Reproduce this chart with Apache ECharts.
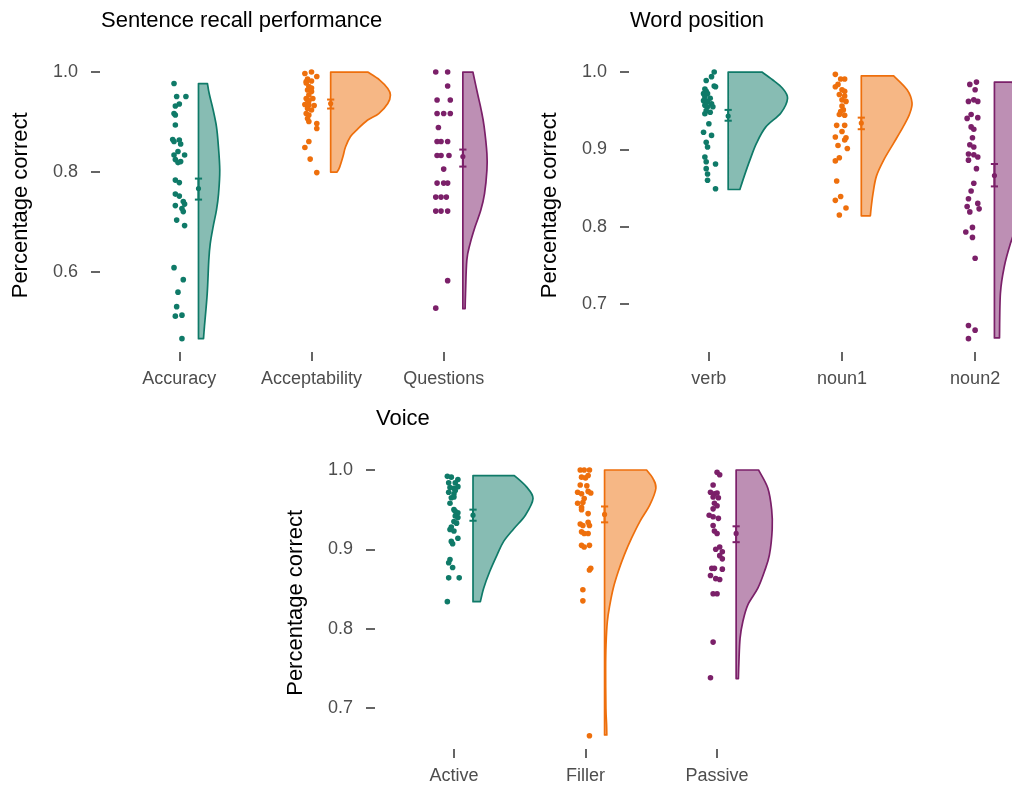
<!DOCTYPE html>
<html><head><meta charset="utf-8">
<script src="https://cdn.jsdelivr.net/npm/echarts@6/dist/echarts.min.js"></script>
<style>html,body{margin:0;padding:0;background:#fff}#c{width:1012px;height:789px}</style>
</head><body><div id="c"></div>
<script>
// ---------- categories & ticks ----------
const recallCats = ['Accuracy', 'Acceptability', 'Questions'];
const positionCats = ['verb', 'noun1', 'noun2'];
const voiceCats = ['Active', 'Filler', 'Passive'];
const recallTicks = [0.6, 0.8, 1.0];
const positionTicks = [0.7, 0.8, 0.9, 1.0];
const voiceTicks = [0.7, 0.8, 0.9, 1.0];

// ---------- raw points: [jitter (category units), proportion correct] ----------
const accuracyPts = [[-0.04,0.977],[-0.02,0.951],[0.05,0.951],[0,0.936],[-0.03,0.932],[-0.04,0.917],[-0.03,0.914],[-0.03,0.894],[-0.05,0.865],[-0.04,0.861],[0,0.864],[0.01,0.856],[-0.01,0.841],[-0.04,0.834],[0.04,0.834],[-0.03,0.825],[0.01,0.821],[-0.01,0.819],[-0.03,0.784],[0,0.779],[-0.03,0.756],[0,0.752],[0.03,0.741],[-0.03,0.733],[0.04,0.736],[0.02,0.727],[0.03,0.721],[-0.02,0.704],[0.04,0.693],[-0.04,0.609],[0.03,0.585],[-0.01,0.560],[-0.02,0.531],[0.02,0.514],[-0.03,0.512],[0.02,0.467]];
const acceptabilityPts = [[-0.05,0.997],[0,1.0],[0.04,0.991],[-0.03,0.986],[-0.04,0.981],[0,0.982],[-0.04,0.978],[-0.02,0.971],[0,0.968],[-0.03,0.964],[0,0.961],[-0.02,0.954],[-0.04,0.947],[-0.03,0.944],[0.01,0.947],[-0.02,0.942],[-0.05,0.935],[-0.02,0.934],[0.02,0.933],[-0.03,0.927],[0,0.924],[-0.04,0.917],[-0.02,0.914],[-0.03,0.907],[-0.02,0.901],[0.04,0.897],[0.04,0.887],[-0.02,0.861],[-0.05,0.849],[-0.01,0.826],[0.04,0.799]];
const questionsPts = [[-0.06,1.0],[0.03,1.0],[0.03,0.972],[-0.05,0.944],[0.05,0.944],[-0.05,0.917],[0,0.917],[0.05,0.917],[-0.04,0.889],[-0.05,0.861],[-0.02,0.861],[0.03,0.861],[-0.05,0.833],[-0.02,0.833],[0.04,0.833],[0,0.806],[-0.05,0.778],[0,0.778],[0.03,0.778],[-0.06,0.750],[-0.02,0.750],[0.02,0.750],[-0.06,0.722],[-0.02,0.722],[0.03,0.722],[0.03,0.583],[-0.06,0.528]];
const verbPts = [[0.04,1.0],[0.02,0.994],[-0.02,0.989],[0.04,0.982],[0.05,0.981],[-0.03,0.978],[-0.02,0.975],[-0.04,0.972],[-0.01,0.972],[-0.03,0.968],[0.01,0.966],[-0.04,0.963],[-0.01,0.962],[0.02,0.959],[-0.03,0.957],[-0.01,0.955],[0.03,0.955],[-0.02,0.950],[-0.03,0.946],[0.01,0.948],[0,0.933],[-0.04,0.922],[0.02,0.918],[-0.02,0.909],[-0.01,0.903],[-0.03,0.890],[0.05,0.881],[-0.02,0.884],[-0.02,0.875],[-0.01,0.868],[-0.01,0.860],[0.05,0.849]];
const noun1Pts = [[-0.05,0.997],[-0.01,0.991],[0.02,0.991],[-0.03,0.984],[-0.05,0.981],[0,0.977],[0.02,0.975],[-0.02,0.971],[0.02,0.969],[0,0.964],[0.03,0.962],[0,0.956],[0.01,0.951],[-0.01,0.949],[-0.02,0.945],[0.02,0.944],[-0.04,0.931],[0.02,0.931],[0,0.923],[-0.05,0.916],[0.03,0.915],[0.02,0.912],[-0.03,0.905],[0.04,0.901],[-0.02,0.889],[-0.05,0.885],[-0.04,0.859],[-0.01,0.839],[-0.05,0.834],[0.03,0.824],[-0.02,0.815]];
const noun2Pts = [[-0.04,0.984],[0.01,0.987],[0,0.977],[-0.05,0.962],[-0.01,0.964],[0.02,0.962],[-0.03,0.945],[-0.06,0.940],[0.02,0.941],[-0.03,0.929],[-0.01,0.926],[-0.02,0.915],[-0.04,0.906],[-0.01,0.903],[-0.05,0.894],[-0.01,0.893],[0.02,0.890],[-0.05,0.886],[0.01,0.875],[-0.01,0.856],[-0.03,0.846],[-0.05,0.836],[-0.06,0.826],[-0.04,0.819],[0.02,0.830],[0.03,0.823],[-0.02,0.799],[-0.07,0.793],[-0.02,0.786],[0,0.759],[-0.05,0.672],[0,0.666],[-0.05,0.655]];
const activePts = [[-0.05,0.992],[-0.02,0.991],[0.03,0.988],[-0.04,0.984],[0.01,0.984],[-0.03,0.978],[0,0.977],[0.03,0.979],[-0.04,0.972],[0,0.970],[0.01,0.974],[-0.02,0.965],[0,0.966],[-0.03,0.958],[0,0.950],[0.01,0.948],[0.03,0.946],[0.01,0.942],[0.03,0.940],[0,0.935],[0.02,0.933],[-0.02,0.928],[-0.03,0.925],[0,0.923],[0.03,0.914],[-0.02,0.910],[-0.01,0.907],[-0.03,0.887],[-0.04,0.883],[-0.01,0.877],[-0.04,0.864],[0.04,0.864],[-0.05,0.834]];
const fillerPts = [[-0.04,1.0],[-0.01,1.0],[0.03,1.0],[-0.03,0.991],[0,0.990],[0.02,0.993],[-0.04,0.981],[0.01,0.980],[-0.06,0.972],[-0.03,0.970],[0.02,0.973],[0.04,0.971],[-0.01,0.964],[-0.06,0.958],[-0.02,0.959],[-0.03,0.953],[-0.03,0.950],[0.02,0.945],[-0.04,0.932],[-0.02,0.930],[0.02,0.934],[0.03,0.930],[-0.03,0.922],[-0.01,0.920],[0.02,0.920],[-0.03,0.905],[-0.01,0.903],[0.03,0.905],[0.04,0.876],[0.03,0.874],[-0.02,0.849],[-0.02,0.835],[0.03,0.665]];
const passivePts = [[0,0.997],[0.02,0.994],[-0.03,0.981],[-0.05,0.972],[-0.02,0.970],[0,0.971],[-0.03,0.966],[0.01,0.965],[-0.02,0.958],[0,0.955],[-0.03,0.951],[-0.06,0.943],[-0.03,0.941],[0.01,0.939],[-0.03,0.930],[-0.02,0.923],[0,0.920],[0.02,0.903],[-0.01,0.900],[0.04,0.897],[0.02,0.892],[0.04,0.888],[-0.04,0.876],[-0.02,0.876],[0.04,0.875],[-0.05,0.867],[-0.01,0.863],[0.02,0.862],[-0.03,0.844],[0,0.844],[-0.03,0.783],[-0.05,0.738]];

// ---------- half-violin outlines: [proportion correct, density half-width (category units)] ----------
const accuracyViolin = [[0.977,0.068],[0.957,0.081],[0.924,0.111],[0.891,0.136],[0.857,0.149],[0.804,0.161],[0.757,0.152],[0.724,0.136],[0.691,0.111],[0.657,0.089],[0.624,0.078],[0.557,0.066],[0.491,0.045],[0.467,0.038]];
const acceptabilityViolin = [[1.0,0.280],[0.984,0.371],[0.967,0.432],[0.954,0.452],[0.937,0.432],[0.917,0.364],[0.904,0.280],[0.885,0.200],[0.871,0.150],[0.850,0.112],[0.831,0.093],[0.810,0.068],[0.800,0.048]];
const questionsViolin = [[1.0,0.076],[0.957,0.111],[0.924,0.139],[0.891,0.161],[0.837,0.182],[0.804,0.182],[0.757,0.164],[0.724,0.136],[0.691,0.093],[0.657,0.055],[0.624,0.030],[0.557,0.020],[0.527,0.017]];
const verbViolin = [[1.0,0.253],[0.990,0.333],[0.979,0.408],[0.966,0.446],[0.947,0.396],[0.929,0.283],[0.908,0.213],[0.886,0.163],[0.865,0.120],[0.848,0.088]];
const noun1Violin = [[0.995,0.243],[0.977,0.344],[0.960,0.381],[0.945,0.361],[0.929,0.314],[0.908,0.243],[0.886,0.168],[0.865,0.113],[0.843,0.088],[0.826,0.075],[0.814,0.068]];
const noun2Violin = [[0.987,0.135],[0.972,0.158],[0.950,0.226],[0.920,0.301],[0.890,0.316],[0.860,0.286],[0.830,0.226],[0.800,0.165],[0.778,0.120],[0.749,0.075],[0.714,0.045],[0.656,0.038]];
const activeViolin = [[0.993,0.314],[0.979,0.405],[0.964,0.456],[0.943,0.398],[0.926,0.310],[0.910,0.233],[0.893,0.183],[0.872,0.127],[0.851,0.081],[0.834,0.056]];
const fillerViolin = [[1.0,0.319],[0.990,0.365],[0.977,0.390],[0.956,0.344],[0.935,0.268],[0.914,0.205],[0.893,0.150],[0.872,0.104],[0.851,0.066],[0.830,0.040],[0.809,0.021],[0.780,0.011],[0.750,0.008],[0.700,0.010],[0.680,0.015],[0.666,0.017]];
const passiveViolin = [[1.0,0.170],[0.977,0.241],[0.950,0.270],[0.925,0.274],[0.893,0.253],[0.872,0.215],[0.851,0.165],[0.830,0.089],[0.809,0.051],[0.788,0.030],[0.758,0.021],[0.737,0.017]];

// ---------- mean ± SE ----------
const recallMean = [0.767, 0.937, 0.831];
const recallLow  = [0.745, 0.927, 0.811];
const recallHigh = [0.787, 0.945, 0.845];
const positionMean = [0.943, 0.934, 0.866];
const positionLow  = [0.937, 0.926, 0.852];
const positionHigh = [0.951, 0.941, 0.881];
const voiceMean = [0.943, 0.944, 0.920];
const voiceLow  = [0.936, 0.934, 0.909];
const voiceHigh = [0.950, 0.954, 0.929];

// ---------- styling ----------
const COLORS = ['#0F7A68', '#EE6F0C', '#7B2069'];
const FILLS = ['rgba(15,122,104,0.5)', 'rgba(238,111,12,0.5)', 'rgba(123,32,105,0.5)'];
const NUDGE = 0.145;
const FONT = '"Liberation Sans", Arial, sans-serif';

const panels = [
  { title: 'Sentence recall performance', cats: recallCats, ticks: recallTicks,
    pts: [accuracyPts, acceptabilityPts, questionsPts],
    violins: [accuracyViolin, acceptabilityViolin, questionsViolin],
    mean: recallMean, low: recallLow, high: recallHigh,
    grid: { left: 100, top: 58.7, width: 423, height: 293.3 } },
  { title: 'Word position', cats: positionCats, ticks: positionTicks,
    pts: [verbPts, noun1Pts, noun2Pts],
    violins: [verbViolin, noun1Violin, noun2Violin],
    mean: positionMean, low: positionLow, high: positionHigh,
    grid: { left: 629, top: 58.7, width: 426, height: 293.3 } },
  { title: 'Voice', cats: voiceCats, ticks: voiceTicks,
    pts: [activePts, fillerPts, passivePts],
    violins: [activeViolin, fillerViolin, passiveViolin],
    mean: voiceMean, low: voiceLow, high: voiceHigh,
    grid: { left: 375, top: 456.7, width: 421, height: 292.3 } }
];

function yRange(p) {
  let lo = Infinity, hi = -Infinity;
  p.pts.forEach(g => g.forEach(d => { lo = Math.min(lo, d[1]); hi = Math.max(hi, d[1]); }));
  p.violins.forEach(g => g.forEach(d => { lo = Math.min(lo, d[0]); hi = Math.max(hi, d[0]); }));
  const pad = (hi - lo) * 0.05;
  return [lo - pad, hi + pad];
}

function violinRenderer(profiles) {
  return function (params, api) {
    const idx = Math.round(api.value(0)) - 1;
    const prof = profiles[idx];
    const cx = idx + 1 + NUDGE;
    const vTop = prof[0][0], vBot = prof[prof.length - 1][0];
    const pts = prof.map(d => api.coord([cx + d[1], d[0]]));
    const lt = api.coord([cx, vTop]), lb = api.coord([cx, vBot]);
    let d = 'M' + lt[0] + ',' + lt[1] + ' L' + pts[0][0] + ',' + pts[0][1];
    for (let k = 0; k < pts.length - 1; k++) {
      const p0 = pts[k - 1] || pts[k], p1 = pts[k], p2 = pts[k + 1], p3 = pts[k + 2] || pts[k + 1];
      const c1 = [p1[0] + (p2[0] - p0[0]) / 6, p1[1] + (p2[1] - p0[1]) / 6];
      const c2 = [p2[0] - (p3[0] - p1[0]) / 6, p2[1] - (p3[1] - p1[1]) / 6];
      d += ' C' + c1[0] + ',' + c1[1] + ' ' + c2[0] + ',' + c2[1] + ' ' + p2[0] + ',' + p2[1];
    }
    d += ' L' + lb[0] + ',' + lb[1] + ' Z';
    return { type: 'path', shape: { pathData: d },
      style: { fill: FILLS[idx], stroke: COLORS[idx], lineWidth: 1.7, lineJoin: 'round' } };
  };
}

function errRenderer(params, api) {
  const idx = params.dataIndex;
  const x = api.value(0);
  const m = api.coord([x, api.value(1)]);
  const l = api.coord([x, api.value(2)]);
  const h = api.coord([x, api.value(3)]);
  const c = COLORS[idx], w = 3.6;
  const st = { stroke: c, lineWidth: 2 };
  return { type: 'group', children: [
    { type: 'line', shape: { x1: m[0], y1: l[1], x2: m[0], y2: h[1] }, style: st },
    { type: 'line', shape: { x1: m[0] - w, y1: l[1], x2: m[0] + w, y2: l[1] }, style: st },
    { type: 'line', shape: { x1: m[0] - w, y1: h[1], x2: m[0] + w, y2: h[1] }, style: st },
    { type: 'circle', shape: { cx: m[0], cy: m[1], r: 2.6 }, style: { fill: c } }
  ] };
}

const option = {
  backgroundColor: '#ffffff',
  animation: false,
  title: [], grid: [], xAxis: [], yAxis: [], series: []
};

panels.forEach((p, pi) => {
  const yr = yRange(p);
  option.title.push({ text: p.title, left: p.grid.left + 1, top: pi === 2 ? 408 : 10, padding: 0,
    textStyle: { fontFamily: FONT, fontSize: 22, fontWeight: 'normal', color: '#000' } });
  option.grid.push(Object.assign({ containLabel: false, outerBoundsMode: 'none' }, p.grid));
  option.xAxis.push({ type: 'value', gridIndex: pi, min: 0.4, max: 3.6,
    splitLine: { show: false }, axisLine: { show: false },
    axisTick: { show: true, length: 9, customValues: [1, 2, 3], lineStyle: { color: '#333', width: 1.5 } },
    axisLabel: { show: true, customValues: [1, 2, 3], margin: 18, fontFamily: FONT, fontSize: 18, color: '#4D4D4D',
      formatter: v => p.cats[Math.round(v) - 1] } });
  option.yAxis.push({ type: 'value', gridIndex: pi, min: yr[0], max: yr[1],
    splitLine: { show: false }, axisLine: { show: false },
    axisTick: { show: true, length: 9, customValues: p.ticks, lineStyle: { color: '#333', width: 1.5 } },
    axisLabel: { show: true, customValues: p.ticks, margin: 22, fontFamily: FONT, fontSize: 18, color: '#4D4D4D',
      formatter: v => v.toFixed(1) },
    name: 'Percentage correct', nameLocation: 'middle', nameRotate: 90, nameGap: 68,
    nameTextStyle: { fontFamily: FONT, fontSize: 22, color: '#000' } });

  option.series.push({ type: 'custom', xAxisIndex: pi, yAxisIndex: pi, z: 1,
    renderItem: violinRenderer(p.violins), encode: { x: 0, y: 1 },
    data: [[1, p.violins[0][0][0]], [2, p.violins[1][0][0]], [3, p.violins[2][0][0]]] });
  p.pts.forEach((g, gi) => {
    option.series.push({ type: 'scatter', xAxisIndex: pi, yAxisIndex: pi, z: 2,
      symbolSize: 5.6, itemStyle: { color: COLORS[gi], opacity: 1 },
      data: g.map(d => [gi + 1 + d[0], d[1]]) });
  });
  option.series.push({ type: 'custom', xAxisIndex: pi, yAxisIndex: pi, z: 3,
    renderItem: errRenderer, encode: { x: 0, y: 1 },
    data: p.mean.map((m, i) => [i + 1 + NUDGE, m, p.low[i], p.high[i]]) });
});

const chart = echarts.init(document.getElementById('c'), null, { renderer: 'canvas' });
chart.setOption(option);
</script>
</body></html>
